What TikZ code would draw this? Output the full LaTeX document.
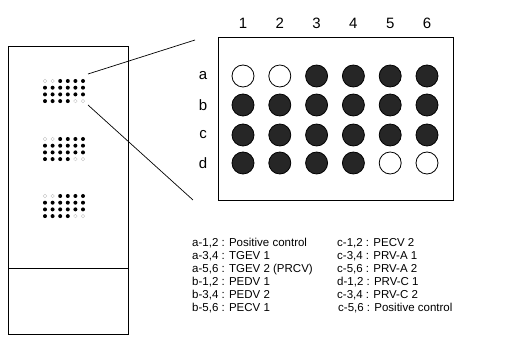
\documentclass[tikz,border=0pt]{standalone}
\usepackage{fontspec}
\setmainfont{Liberation Sans}
\usetikzlibrary{positioning}

\begin{document}
\begin{tikzpicture}[x=1pt, y=-1pt,
      well/.style={circle, draw, line width=0.8pt, minimum size=22pt, inner sep=0pt},
      full/.style={well, fill=black!85},
      empty/.style={well, fill=white},
      fdot/.style={circle, fill=black, minimum size=4pt, inner sep=0pt},
      pdot/.style={circle, draw=black!25, line width=0.3pt, minimum size=3.6pt, inner sep=0pt},
      lbl/.style={font=\fontsize{15}{15}\selectfont, inner sep=0pt},
      key/.style={anchor=base west, inner sep=0pt, font=\fontsize{11.5}{13}\selectfont}]
    \useasboundingbox (0,0) rectangle (507,339);
    % slide with three small plates
    \node[draw, line width=0.9pt, minimum width=120pt, minimum height=288pt,
          inner sep=0pt] (slide) at (68,190) {};
    \draw[line width=0.9pt] (8,268) -- (128,268);
    \foreach \gy [count=\g] in {81,139,196} {
      \foreach \r/\st [count=\i] in {a/{pdot,pdot,fdot,fdot,fdot,fdot},
                                     b/{fdot,fdot,fdot,fdot,fdot,fdot},
                                     c/{fdot,fdot,fdot,fdot,fdot,fdot},
                                     d/{fdot,fdot,fdot,fdot,pdot,pdot}} {
        \foreach \s [count=\c] in \st
          \node[\s] (m\g-\r\c) at ({45+7.6*(\c-1)},{\gy+6.7*(\i-1)}) {};
      }
    }
    % enlarged plate
    \node[draw, line width=0.9pt, minimum width=235pt, minimum height=163pt,
          inner sep=0pt] (plate) at (335.5,118.5) {};
    \foreach \r/\y/\st in {a/76/{empty,empty,full,full,full,full},
                           b/105/{full,full,full,full,full,full},
                           c/135/{full,full,full,full,full,full},
                           d/163/{full,full,full,full,empty,empty}} {
      \node[lbl] (row-\r) at (203,\y) {\r};
      \foreach \s [count=\c] in \st
        \node[\s] (w-\r\c) at ({243+36.8*(\c-1)},\y) {};
    }
    \foreach \c in {1,...,6}
      \node[lbl] (col-\c) at ({243+36.8*(\c-1)},23) {\c};
    % zoom lines
    \coordinate (z1) at (88,74);
    \coordinate (z2) at (88,105);
    \coordinate (zt) at (195,40);
    \coordinate (zb) at (193,200);
    \draw[line width=0.7pt] (z1) -- (zt);
    \draw[line width=0.7pt] (z2) -- (zb);
    % legend
    \node[key] (k1) at (192,247) {a-1,2 : Positive control};
    \node[key] (k2) at (192,260) {a-3,4 : TGEV 1};
    \node[key] (k3) at (192,273) {a-5,6 : TGEV 2 (PRCV)};
    \node[key] (k4) at (192,286) {b-1,2 : PEDV 1};
    \node[key] (k5) at (192,299) {b-3,4 : PEDV 2};
    \node[key] (k6) at (192,312) {b-5,6 : PECV 1};
    \node[key] (k7) at (337,247) {c-1,2 : PECV 2};
    \node[key] (k8) at (337,260) {c-3,4 : PRV-A 1};
    \node[key] (k9) at (337,273) {c-5,6 : PRV-A 2};
    \node[key] (k10) at (337,286) {d-1,2 : PRV-C 1};
    \node[key] (k11) at (337,299) {c-3,4 : PRV-C 2};
    \node[key] (k12) at (338,312) {c-5,6 : Positive control};
  \end{tikzpicture}
\end{document}
